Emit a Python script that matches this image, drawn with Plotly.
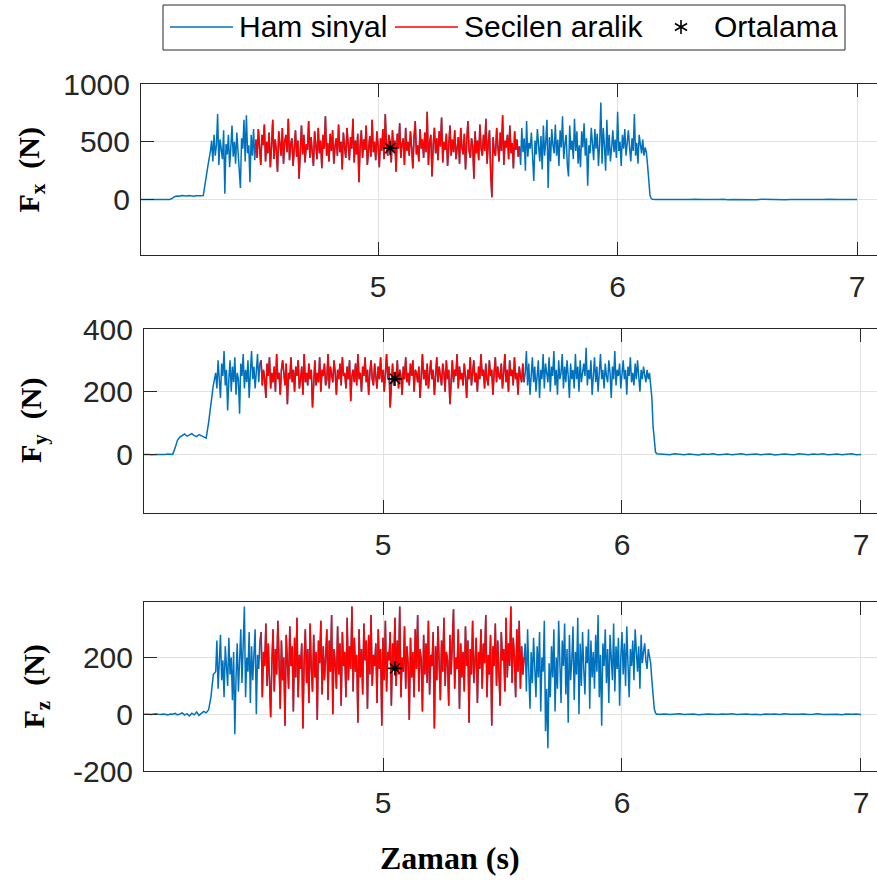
import numpy as np
import plotly.graph_objects as go

# ---------------- data ----------------
# sampling of the three recorded segments
pre_t0, pre_dt = 4.00, 0.01      # quiet start, 30 samples (4.00 .. 4.29)
act_t0, act_dt = 4.30, 0.005     # loaded part, 370 samples (4.300 .. 6.145)
tail_t0, tail_dt = 6.16, 0.02    # unloaded end, 43 samples (6.16 .. 7.00)
sel_start, sel_end = 4.49, 5.59  # selected range (Secilen aralik)

fx_pre = [0, 0, 1, 0, -1, 0, 0, 1, 0, 0, -1, 0, 1, 0,
          10, 25, 30, 28, 35, 32, 30, 34, 31, 29, 33, 30, 32, 35,
          150, 300]
fx_act = [
    # 4.300 - 4.485 (raw)
    420, 510, 330, 560, 380, 470, 740, 300, 520, 410,
    350, 600, 50, 480, 390, 560, 280, 450, 640, 370,
    500, 310, 580, 420, 260, 100, 530, 440, 690, 330,
    730, 400, 470, 150, 560, 380, 610, 340,
    # 4.490 - 5.590 (selected)
    520, 360, 610, 420, 300, 560, 470, 650, 330, 500,
    400, 580, 280, 460, 690, 350, 520, 430, 240, 590,
    450, 380, 620, 310, 500, 560, 410, 700, 340, 480,
    530, 290, 440, 600, 370, 510, 180, 470, 640, 390,
    560, 320, 480, 430, 680, 360, 540, 410, 290, 590,
    470, 350, 620, 400, 510, 270, 560, 440, 720, 380,
    490, 330, 570, 420, 600, 310, 460, 530, 380, 650,
    410, 500, 260, 580, 450, 360, 620, 480, 340, 540,
    440, 700, 320, 510, 390, 570, 150, 470, 600, 360,
    520, 430, 640, 300, 480, 550, 370, 690, 410, 500,
    340, 590, 460, 280, 530, 420, 610, 350, 740, 450,
    380, 560, 490, 320, 600, 410, 510, 240, 570, 440,
    660, 360, 480, 530, 300, 620, 420, 500, 380, 590,
    450, 270, 540, 680, 390, 470, 330, 610, 440, 520,
    360, 580, 410, 760, 300, 490, 560, 200, 470, 620,
    400, 530, 340, 590, 460, 710, 320, 500, 430, 570,
    290, 480, 640, 380, 520, 410, 600, 350, 470, 540,
    310, 620, 450, 390, 570, 260, 500, 680, 420, 360,
    530, 470, 180, 590, 400, 510, 340, 650, 440, 380,
    560, 420, 700, 310, 490, 600, 230, 20, 540, 410,
    380, 620, 460, 330, 580, 420, 730, 300, 510, 450,
    560, 350, 640, 400, 490, 270, 590, 430, 520, 370,
    460,
    # 5.595 - 6.120 (raw)
    300, 620, 410, 530, 250, 680, 370, 490, 440, 580,
    420, 160, 510, 390, 610, 470, 330, 550, 260, 640,
    380, 500, 690, 100, 540, 330, 610, 470, 400, 650,
    380, 520, 290, 600, 450, 720, 350, 480, 560, 300,
    200, 640, 430, 510, 350, 700, 420, 590, 310, 470,
    280, 590, 450, 660, 380, 530, 120, 470, 400, 620,
    510, 340, 610, 440, 570, 290, 480, 840, 310, 620,
    470, 250, 690, 380, 560, 330, 450, 600, 410, 520,
    360, 760, 420, 500, 290, 560, 440, 610, 380, 470,
    600, 450, 330, 530, 420, 740, 380, 490, 310, 560,
    470, 400, 520, 380, 450, 410,
    # 6.125 - 6.145 (release)
    300, 120, 40, 10, 2,
]
fx_tail = [0, 2, -1, 1, 0, -2, 1, 0, 2, -1, 0, 1, -1, 0, 2, -2, 1, 0, -1, 1,
           0, -1, 2, 0, -1, 1, 0, -2, 1, 0, 2, -1, 0, 1, -1, 0, 2, -2, 0, 1,
           -1, 0, 1]

fy_pre = [0, 1, 0, -1, 0, 1, 0, 0, -1, 0, 1, 0, 0,
          20, 45,
          55, 60, 65, 58, 62, 66, 60, 57, 63, 59, 55, 52,
          100, 170, 220]
fy_act = [
    260, 210, 300, 230, 180, 290, 250, 330, 220, 270,
    140, 240, 300, 200, 280, 230, 310, 190, 260, 240,
    130, 290, 250, 320, 210, 270, 230, 300, 180, 260,
    330, 240, 280, 210, 270, 320, 230, 290,
    300, 220, 270, 240, 180, 290, 250, 310, 210, 260,
    230, 280, 200, 320, 240, 260, 190, 270, 300, 250,
    220, 290, 160, 260, 240, 310, 230, 270, 200, 280,
    250, 300, 210, 240, 280, 190, 320, 230, 260, 220,
    290, 240, 270, 150, 250, 300, 220, 260, 230, 310,
    200, 270, 250, 290, 220, 240, 320, 210, 280, 250,
    230, 300, 260, 190, 270, 240, 290, 220, 310, 250,
    260, 210, 280, 240, 300, 170, 250, 270, 230, 290,
    220, 320, 240, 260, 200, 280, 250, 310, 230, 270,
    190, 260, 300, 240, 220, 290, 250, 210, 280, 240,
    310, 230, 270, 200, 260, 320, 240, 280, 150, 250,
    290, 220, 260, 240, 300, 210, 270, 250, 190, 280,
    240, 310, 230, 260, 220, 290, 250, 300, 200, 270,
    260, 230, 280, 180, 250, 320, 240, 270, 220, 290,
    210, 260, 300, 240, 270, 190, 250, 310, 230, 280,
    250, 220, 290, 260, 200, 300, 240, 270, 160, 260,
    300, 230, 270, 250, 320, 210, 280, 240, 260, 220,
    290, 250, 180, 270, 240, 310, 220, 260, 300, 230,
    260, 200, 280, 240, 320, 250, 270, 210, 290, 240,
    220, 300, 250, 270, 190, 260, 310, 230, 280, 250,
    240, 290, 210, 260, 320, 230, 270, 200, 300, 250,
    270, 220, 310, 240, 260, 190, 280, 250, 230, 290,
    230,
    260, 330, 220, 290, 190, 260, 310, 230, 280, 200,
    250, 300, 180, 270, 240, 320, 210, 290, 260, 230,
    310, 200, 280, 250, 330, 220, 270, 190, 300, 240,
    260, 320, 210, 280, 230, 300, 250, 180, 290, 240,
    270, 210, 320, 240, 280, 200, 300, 230, 260, 290,
    250, 340, 220, 270, 240, 300, 190, 260, 310, 230,
    280, 200, 250, 320, 240, 270, 210, 290, 250, 230,
    300, 260, 180, 280, 240, 330, 220, 270, 250, 290,
    210, 260, 300, 240, 270, 190, 280, 250, 310, 230,
    260, 220, 290, 240, 300, 250, 200, 270, 240, 280,
    250, 230, 270, 240, 260, 220,
    180, 90, 30, 8, 2,
]
fy_tail = [1, 0, -1, 2, 0, -1, 1, 0, -2, 1, 0, 2, -1, 0, 1, -1, 0, 2, -1, 0,
           1, -1, 0, 1, -2, 0, 1, 0, -1, 2, 0, -1, 1, 0, 2, -1, 0, 1, -1, 0,
           2, -1, 0]

fz_pre = [0, 1, 0, -1, 0, 2, 0, -1, 1, 0, -2, 1, 0, 3, -2, 1, 5, -3, 2, -6,
          4, -2, 8, -4, 3, 10, 5, 15,
          60, 140]
fz_act = [
    150, 260, 90, 210, 280, 120, 190, 60, 240, 170,
    100, 270, 140, 200, 50, 220, -70, 130, 250, 80,
    180, 300, 110, 230, 380, 60, 200, 150, 290, 40,
    240, 120, 190, 300, 0, 210, 160, 260,
    290, 60, 220, 170, 320, 100, 250, 140, -10, 180,
    300, 80, 230, 140, 330, 190, 20, 260, 120, 200,
    -40, 280, 150, 90, 310, 170, 240, 10, 270, 130,
    340, 60, 210, 160, 250, -50, 190, 300, 110, 230,
    40, 320, 160, 80, 280, 130, 220, -20, 260, 180,
    330, 70, 240, 120, 200, 300, 50, 260, 150, 350,
    0, 230, 180, 90, 310, 140, 250, 30, 290, 170,
    220, 60, 340, 120, 240, 160, 380, 80, 270, 150,
    210, -30, 300, 130, 230, 70, 320, 190, 260, 20,
    280, 140, 350, 100, 210, 170, 250, 40, 300, 160,
    230, -40, 270, 120, 330, 80, 220, 190, 290, 30,
    250, 170, 340, 100, 260, 140, 380, 60, 200, 150,
    310, 90, 240, 180, -20, 270, 130, 220, 60, 300,
    160, 350, 80, 230, 190, 10, 280, 140, 250, 110,
    330, 70, 210, 170, 290, -50, 240, 120, 310, 180,
    50, 260, 150, 340, 100, 220, 190, 30, 280, 140,
    240, 370, 90, 200, 160, 300, 20, 250, 130, 220,
    80, 310, 170, 260, -30, 230, 140, 330, 110, 190,
    270, 40, 220, 160, 300, 90, 250, 180, 350, 60,
    210, 140, 280, -40, 240, 170, 320, 100, 260, 150,
    30, 290, 190, 230, 80, 340, 130, 250, 170, 380,
    110, 270, 200, 60, 300, 150, 330, 90, 240, 140,
    200,
    250, 80, 300, 150, 20, 220, 110, 270, 180, 60,
    240, 130, 290, 10, 200, 150, 330, -60, 90, -120,
    180, 60, 240, 130, 300, 10, 200, 90, 330, 150,
    40, 260, 170, 320, 70, 230, -30, 280, 120, 190,
    310, 50, 220, 140, 340, 0, 250, 100, 290, 160,
    70, 240, 180, 300, 20, 260, 130, 220, 90, 280,
    150, 350, 60, 210, -40, 250, 170, 300, 110, 230,
    40, 280, 190, 120, 320, 80, 240, 160, 270, 30,
    200, 290, 140, 250, 100, 310, 180, 60, 230, 170,
    260, 120, 300, 200, 150, 240, 90, 280, 180, 220,
    250, 190, 160, 230, 200, 180,
    120, 60, 20, 5, 0,
]
fz_tail = [0, 1, -1, 0, 2, -1, 0, 1, -2, 0, 1, 0, -1, 1, 0, 2, -1, 0, 1, -1,
           0, -2, 1, 0, 1, -1, 2, 0, -1, 0, 1, -1, 0, 2, -1, 0, 1, 0, -2, 1,
           0, 1, -1]

mean_t = [5.05]
mean_fx = [445]
mean_fy = [241]
mean_fz = [162]

x_ticks = [5, 6, 7]
y_ticks_fx = [0, 500, 1000]
y_ticks_fy = [0, 200, 400]
y_ticks_fz = [-200, 0, 200]

legend_names = ["Ham sinyal", "Secilen aralik", "Ortalama"]
x_title = "Zaman (s)"

for nm, seg, n in [("fx_pre", fx_pre, 30), ("fx_act", fx_act, 370), ("fx_tail", fx_tail, 43),
                   ("fy_pre", fy_pre, 30), ("fy_act", fy_act, 370), ("fy_tail", fy_tail, 43),
                   ("fz_pre", fz_pre, 30), ("fz_act", fz_act, 370), ("fz_tail", fz_tail, 43)]:
    assert len(seg) == n, f"{nm}: {len(seg)} != {n}"


def sample_times(n_pre, n_act, n_tail):
    return np.round(np.concatenate([
        pre_t0 + pre_dt * np.arange(n_pre),
        act_t0 + act_dt * np.arange(n_act),
        tail_t0 + tail_dt * np.arange(n_tail),
    ]), 4)


# ---------------- figure ----------------
W, H = 877, 885
BLUE = "#0072BD"
RED = "#FF0000"
AX = "#262626"
GRID = "#e2e2e2"
SANS = "Liberation Sans, Arial, sans-serif"
SERIF = "Liberation Serif, Times New Roman, serif"
TICKFONT = dict(family=SANS, size=30, color=AX)
LW = 1.5

panels = [
    dict(pre=fx_pre, act=fx_act, tail=fx_tail, mean=mean_fx, left=141, top=84, bot=255,
         xr=[4.01, 7.083], yr=[-480, 1000], yt=y_ticks_fx, sub="x", lab_x=31),
    dict(pre=fy_pre, act=fy_act, tail=fy_tail, mean=mean_fy, left=144, top=329, bot=513,
         xr=[4.0, 7.067], yr=[-187, 400], yt=y_ticks_fy, sub="y", lab_x=33),
    dict(pre=fz_pre, act=fz_act, tail=fz_tail, mean=mean_fz, left=144, top=602, bot=771,
         xr=[4.0, 7.067], yr=[-200, 396], yt=y_ticks_fz, sub="z", lab_x=35),
]

fig = go.Figure()
layout = {}
annotations = []
shapes = []
for k, p in enumerate(panels, start=1):
    vals = np.array(p["pre"] + p["act"] + p["tail"], dtype=float)
    t = sample_times(len(p["pre"]), len(p["act"]), len(p["tail"]))
    sel = (t >= sel_start - 1e-9) & (t <= sel_end + 1e-9)
    xa = "x" if k == 1 else f"x{k}"
    ya = "y" if k == 1 else f"y{k}"
    fig.add_trace(go.Scatter(x=t, y=vals, mode="lines", name=legend_names[0],
                             line=dict(color=BLUE, width=LW), xaxis=xa, yaxis=ya,
                             showlegend=False))
    fig.add_trace(go.Scatter(x=t[sel], y=vals[sel], mode="lines", name=legend_names[1],
                             line=dict(color=RED, width=LW), xaxis=xa, yaxis=ya,
                             showlegend=False))
    fig.add_trace(go.Scatter(x=mean_t, y=p["mean"], mode="markers", name=legend_names[2],
                             marker=dict(symbol="asterisk-open", size=12, color="black",
                                         line=dict(color="black", width=1.6)),
                             xaxis=xa, yaxis=ya, showlegend=False))
    xkey = "xaxis" if k == 1 else f"xaxis{k}"
    ykey = "yaxis" if k == 1 else f"yaxis{k}"
    ydom = [1 - p["bot"] / H, 1 - p["top"] / H]
    layout[xkey] = dict(domain=[p["left"] / W, 1], range=p["xr"], anchor=ya,
                        tickvals=x_ticks, ticktext=[str(v) for v in x_ticks],
                        ticks="inside", ticklen=13, tickwidth=1, tickcolor=AX,
                        showline=True, linecolor=AX, linewidth=1, mirror="ticks",
                        showgrid=True, gridcolor=GRID, gridwidth=1, zeroline=False,
                        tickfont=TICKFONT, ticklabelstandoff=5)
    layout[ykey] = dict(domain=ydom, range=p["yr"], anchor=xa,
                        tickvals=p["yt"], ticktext=[str(v) for v in p["yt"]],
                        ticks="inside", ticklen=13, tickwidth=1, tickcolor=AX,
                        showline=True, linecolor=AX, linewidth=1, mirror=False,
                        showgrid=True, gridcolor=GRID, gridwidth=1, zeroline=False,
                        tickfont=TICKFONT, ticklabelstandoff=4)
    annotations.append(dict(
        text=f"<b>F<sub>{p['sub']}</sub>  (N)</b>",
        xref="paper", yref="paper", x=p["lab_x"] / W, y=(ydom[0] + ydom[1]) / 2,
        xanchor="center", yanchor="middle", textangle=-90, showarrow=False,
        font=dict(family=SERIF, size=30, color="black")))

annotations.append(dict(text=f"<b>{x_title}</b>", xref="paper", yref="paper",
                        x=450 / W, y=1 - 858 / H, xanchor="center", yanchor="middle",
                        showarrow=False, font=dict(family=SERIF, size=32, color="black")))


# ---- legend box (drawn to match the reference's legend geometry) ----
def px(x):
    return x / W


def py(y):
    return 1 - y / H


LEG_Y = 27
shapes.append(dict(type="rect", xref="paper", yref="paper", x0=px(163), x1=px(845),
                   y0=py(50), y1=py(5), line=dict(color=AX, width=1), fillcolor="white"))
shapes.append(dict(type="line", xref="paper", yref="paper", x0=px(170), x1=px(233),
                   y0=py(LEG_Y), y1=py(LEG_Y), line=dict(color=BLUE, width=1.5)))
shapes.append(dict(type="line", xref="paper", yref="paper", x0=px(395), x1=px(458),
                   y0=py(LEG_Y), y1=py(LEG_Y), line=dict(color=RED, width=1.5)))
cx, cy, r = 681, LEG_Y, 7
ast = (f"M{px(cx)},{py(cy - r)} L{px(cx)},{py(cy + r)} "
       f"M{px(cx - 0.87 * r)},{py(cy - 0.5 * r)} L{px(cx + 0.87 * r)},{py(cy + 0.5 * r)} "
       f"M{px(cx - 0.87 * r)},{py(cy + 0.5 * r)} L{px(cx + 0.87 * r)},{py(cy - 0.5 * r)}")
shapes.append(dict(type="path", xref="paper", yref="paper", path=ast,
                   line=dict(color="black", width=1.6)))
for name, xl in zip(legend_names, [237, 462, 712]):
    annotations.append(dict(text=name, xref="paper", yref="paper", x=px(xl), y=py(LEG_Y),
                            xanchor="left", yanchor="middle", showarrow=False,
                            font=dict(family=SANS, size=30, color="black")))

fig.update_layout(
    width=W, height=H, margin=dict(l=0, r=0, t=0, b=0, autoexpand=False),
    paper_bgcolor="white", plot_bgcolor="white",
    annotations=annotations, shapes=shapes, showlegend=False,
    **layout,
)

fig.write_html("out.html")
